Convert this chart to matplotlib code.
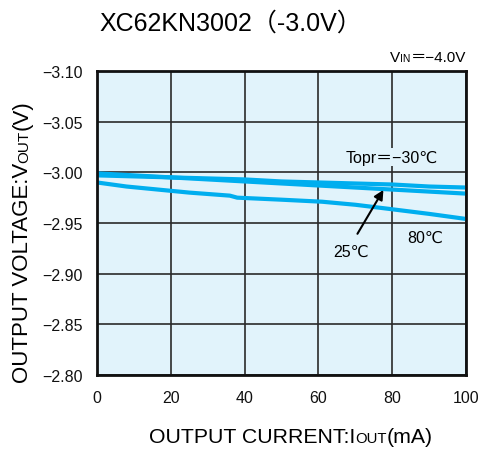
import matplotlib
matplotlib.use("Agg")
import matplotlib.pyplot as plt
from matplotlib.transforms import IdentityTransform

FONTS = ['Liberation Sans', 'DejaVu Sans', 'Noto Sans CJK JP']
plt.rcParams['font.family'] = FONTS

# output current (mA)
current = [0, 10, 20, 30, 40, 50, 60, 70, 80, 90, 100]
# output voltage (V) for each temperature
v_m30 = [-2.999, -2.997, -2.995, -2.994, -2.993, -2.991, -2.990, -2.989, -2.988, -2.986, -2.985]
v_25 = [-2.997, -2.996, -2.995, -2.993, -2.991, -2.989, -2.987, -2.985, -2.983, -2.981, -2.979]
current_80 = [0, 8, 25, 36, 38, 50, 61, 70, 79, 90, 100]
v_80 = [-2.990, -2.986, -2.980, -2.977, -2.975, -2.973, -2.971, -2.968, -2.964, -2.959, -2.954]

x_ticks = [0, 20, 40, 60, 80, 100]
y_ticks = [-3.10, -3.05, -3.00, -2.95, -2.90, -2.85, -2.80]

line_color = '#00aeef'
bg_color = '#e1f3fb'

W, H = 483, 452
fig = plt.figure(figsize=(W / 100, H / 100), dpi=100)
ax = fig.add_axes([97 / W, 1 - 376 / H, 369 / W, 304 / H])
ax.set_facecolor(bg_color)

ax.plot(current, v_m30, color=line_color, lw=3)
ax.plot(current, v_25, color=line_color, lw=3)
ax.plot(current_80, v_80, color=line_color, lw=3)

ax.set_xlim(0, 100)
ax.set_ylim(-2.80, -3.10)
ax.set_xticks(x_ticks)
ax.set_yticks(y_ticks)
ax.set_xticklabels([str(t) for t in x_ticks])
ax.set_yticklabels(['\u2212%.2f' % abs(t) for t in y_ticks])
ax.tick_params(length=0, labelsize=11.5, colors='#111111')
ax.tick_params(axis='y', pad=10)
ax.tick_params(axis='x', pad=11)
ax.grid(True, color='#2a2a2a', lw=1.2)
ax.set_axisbelow(True)
for s in ax.spines.values():
    s.set_linewidth(2)
    s.set_color('#111111')

# curve labels
ax.text(80, -3.015, 'Topr\uff1d\u221230\u2103', fontsize=11.5, ha='center', va='center',
        bbox=dict(facecolor=bg_color, edgecolor='none', pad=1))
ax.text(89, -2.936, '80\u2103', fontsize=11.5, ha='center', va='center')
ax.text(68.8, -2.922, '25\u2103', fontsize=11.5, ha='center', va='center')
ax.annotate('', xy=(78, -2.985), xytext=(70.2, -2.937),
            arrowprops=dict(arrowstyle='-|>', color='black', lw=1.5, mutation_scale=14))

# title
fig.text(231 / W, 1 - 31 / H, 'XC62KN3002\uff08-3.0V\uff09', fontsize=18,
         ha='center', va='baseline')

renderer = fig.canvas.get_renderer()


# write text pieces one after another on a shared baseline (pixel coords from top-left)
def chain(x, y, pieces, rotation=0, align_right=False):
    arts = []
    for s, size in pieces:
        t = fig.text(0, 0, s, fontsize=size, rotation=rotation, rotation_mode='anchor',
                     ha='left', va='baseline', transform=IdentityTransform())
        arts.append(t)
    widths = []
    for t in arts:
        bb = t.get_window_extent(renderer)
        widths.append(bb.height if rotation else bb.width)
    pos = x - sum(widths) if align_right else (y if rotation else x)
    for t, w in zip(arts, widths):
        if rotation:
            t.set_position((x, H - pos))
            pos -= w
        else:
            t.set_position((pos, H - y))
            pos += w


chain(466, 62, [('V', 11), ('IN', 7.5), ('\uff1d\u22124.0V', 11)], align_right=True)
chain(149, 443, [('OUTPUT CURRENT:I', 15.3), ('OUT', 10.7), ('(mA)', 15.3)])
chain(28, 383, [('OUTPUT VOLTAGE:V', 16), ('OUT', 11), ('(V)', 16)], rotation=90)

fig.savefig('out.png', dpi=100)
